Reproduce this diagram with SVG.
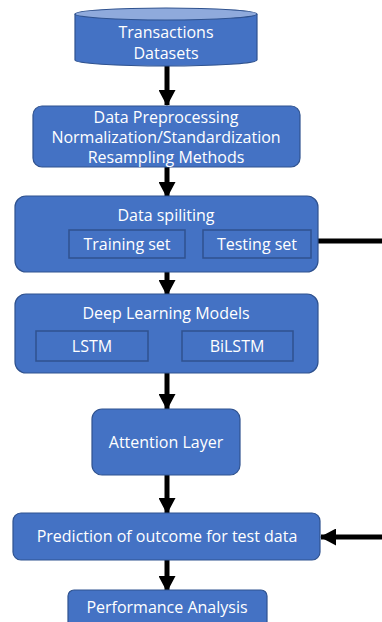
<svg xmlns="http://www.w3.org/2000/svg" width="382" height="622" viewBox="0 0 382 622">
  <style>
    .box { fill: #4472C4; stroke: #2F528F; stroke-width: 1.2; }
    .inner { fill: none; stroke: #2F528F; stroke-width: 1.5; }
    .lbl { font-family: "Open Sans", "Noto Sans", sans-serif; font-size: 16px; fill: #ffffff; text-anchor: middle; dominant-baseline: central; }
    .wire { stroke: #000000; stroke-width: 5; fill: none; }
  </style>
  <defs>
    <marker id="head" viewBox="0 0 16 17" refX="15" refY="8.5" markerWidth="16" markerHeight="17" orient="auto" markerUnits="userSpaceOnUse">
      <path d="M0,0 L16,8.5 L0,17 Z" fill="#000000"/>
    </marker>
  </defs>

  <rect width="382" height="622" fill="#ffffff"/>

  <!-- flow connectors -->
  <g id="connectors">
    <line class="wire" x1="167" y1="65" x2="167" y2="105" marker-end="url(#head)"/>
    <line class="wire" x1="167" y1="167" x2="167" y2="197" marker-end="url(#head)"/>
    <line class="wire" x1="167" y1="258" x2="167" y2="295" marker-end="url(#head)"/>
    <line class="wire" x1="167" y1="373" x2="167" y2="409" marker-end="url(#head)"/>
    <line class="wire" x1="167" y1="475" x2="167" y2="513" marker-end="url(#head)"/>
    <line class="wire" x1="167" y1="560" x2="167" y2="591" marker-end="url(#head)"/>
    <line class="wire" x1="311" y1="241" x2="382" y2="241"/>
    <line class="wire" x1="382" y1="537" x2="321" y2="537" marker-end="url(#head)"/>
  </g>

  <!-- dataset cylinder -->
  <g id="datasets">
    <path class="box" d="M75,14 L75,60 A91,6 0 0 0 257,60 L257,14"/>
    <ellipse cx="166" cy="14" rx="91" ry="6" fill="#8FAADC" stroke="#2F528F" stroke-width="1.2"/>
    <text class="lbl" x="166" y="32">Transactions</text>
    <text class="lbl" x="166" y="53">Datasets</text>
  </g>

  <g id="preprocessing">
    <rect class="box" x="33" y="106" width="267" height="61" rx="9"/>
    <text class="lbl" x="166" y="117">Data Preprocessing</text>
    <text class="lbl" x="166" y="137">Normalization/Standardization</text>
    <text class="lbl" x="166" y="157">Resampling Methods</text>
  </g>

  <g id="splitting">
    <rect class="box" x="15" y="196" width="303" height="76" rx="11"/>
    <text class="lbl" x="166" y="215">Data spiliting</text>
    <rect class="inner" x="69" y="230" width="116" height="28"/>
    <text class="lbl" x="127" y="244">Training set</text>
    <rect class="inner" x="203" y="230" width="108" height="28"/>
    <text class="lbl" x="257" y="244">Testing set</text>
  </g>

  <g id="models">
    <rect class="box" x="15" y="294" width="303" height="79" rx="11"/>
    <text class="lbl" x="166" y="313">Deep Learning Models</text>
    <rect class="inner" x="36" y="331" width="112" height="30"/>
    <text class="lbl" x="92" y="346">LSTM</text>
    <rect class="inner" x="182" y="331" width="111" height="30"/>
    <text class="lbl" x="237" y="346">BiLSTM</text>
  </g>

  <g id="attention">
    <rect class="box" x="92" y="409" width="148" height="66" rx="10"/>
    <text class="lbl" x="166" y="442">Attention Layer</text>
  </g>

  <g id="prediction">
    <rect class="box" x="13" y="513" width="307" height="47" rx="8"/>
    <text class="lbl" x="167" y="536">Prediction of outcome for test data</text>
  </g>

  <g id="performance">
    <rect class="box" x="68" y="590" width="199" height="40" rx="6"/>
    <text class="lbl" x="167" y="607">Performance Analysis</text>
  </g>
</svg>
